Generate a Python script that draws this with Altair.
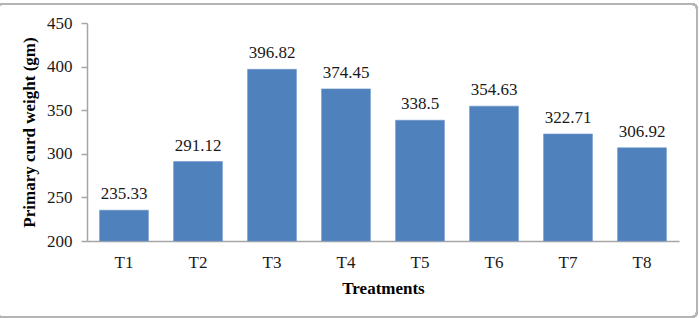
import altair as alt
import pandas as pd

# Primary curd weight by treatment
treatments = ["T1", "T2", "T3", "T4", "T5", "T6", "T7", "T8"]
weights = [235.33, 291.12, 396.82, 374.45, 338.5, 354.63, 322.71, 306.92]
labels = ["235.33", "291.12", "396.82", "374.45", "338.5", "354.63", "322.71", "306.92"]
y_ticks = [200, 250, 300, 350, 400, 450]

df = pd.DataFrame({"Treatment": treatments, "Weight": weights, "Label": labels})

FONT = "Liberation Serif"
BAR = "#4F81BD"
AXIS_GRAY = "#A6A6A6"

x_enc = alt.X(
    "Treatment:N",
    sort=treatments,
    scale=alt.Scale(paddingInner=0.34, paddingOuter=0.17),
    axis=alt.Axis(
        title="Treatments",
        labelAngle=0,
        ticks=False,
        labelPadding=13,
        titlePadding=10,
        domainColor=AXIS_GRAY,
        domainWidth=1.5,
    ),
)
y_enc = alt.Y(
    "Weight:Q",
    scale=alt.Scale(domain=[200, 450], zero=False, nice=False),
    axis=alt.Axis(
        title="Primary curd weight (gm)",
        values=y_ticks,
        grid=False,
        tickSize=6,
        tickColor=AXIS_GRAY,
        tickWidth=1.5,
        domainColor=AXIS_GRAY,
        domainWidth=1.5,
        labelPadding=9,
        titlePadding=8,
    ),
)

bars = alt.Chart(df).mark_bar(color=BAR, stroke="#6C95C8", strokeWidth=0.6).encode(
    x=x_enc, y=y_enc, y2=alt.datum(200)
)

text = alt.Chart(df).mark_text(
    baseline="bottom", dy=-7, font=FONT, fontSize=17, color="#1a1a1a"
).encode(x=alt.X("Treatment:N", sort=treatments), y="Weight:Q", text="Label:N")

# Light rounded frame around the whole figure
frame = alt.Chart(df).mark_rect(
    fill=None, stroke="#B4B4B4", strokeWidth=2, cornerRadius=5
).encode(
    x=alt.value(-90), x2=alt.value(610), y=alt.value(-19), y2=alt.value(294)
)

chart = (
    alt.layer(frame, bars, text)
    .properties(
        width=592,
        height=218,
        autosize=alt.AutoSizeParams(type="none"),
        padding={"left": 87, "top": 23, "right": 20, "bottom": 77},
    )
    .configure_view(stroke=None)
    .configure_axis(
        labelFont=FONT,
        labelFontSize=17,
        labelColor="#1a1a1a",
        titleFont=FONT,
        titleFontSize=17,
        titleFontWeight="bold",
        titleColor="#000000",
    )
)

chart.save("out.html", embed_options={"renderer": "svg", "actions": False})
